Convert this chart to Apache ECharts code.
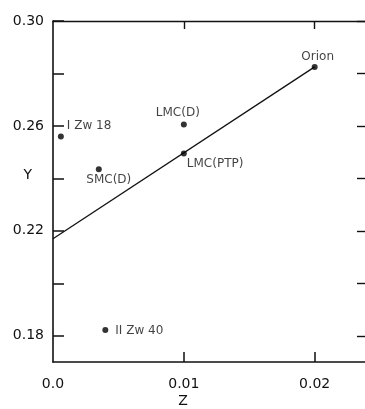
<!DOCTYPE html>
<html>
<head>
<meta charset="utf-8">
<script src="https://cdn.jsdelivr.net/npm/echarts@6/dist/echarts.min.js"></script>
<style>
  html, body { margin: 0; padding: 0; background: #fff; }
  #chart { width: 365px; height: 409px; }
</style>
</head>
<body>
<div id="chart"></div>
<script>
// Objects and their (Z, Y) values
const objectNames = ['I Zw 18', 'SMC(D)', 'LMC(D)', 'LMC(PTP)', 'Orion', 'II Zw 40'];
const zValues = [0.0006, 0.0035, 0.0100, 0.0100, 0.0200, 0.0040];
const yValues = [0.256, 0.2435, 0.2605, 0.2495, 0.2825, 0.1822];

// Fitted line end points
const fitLineZ = [0.0, 0.020];
const fitLineY = [0.217, 0.2825];

// Ticks and labels
const yTickValues = [0.18, 0.20, 0.22, 0.24, 0.26, 0.28, 0.30];
const yLabelValues = [0.18, 0.22, 0.26, 0.30];
const xTickValues = [0.01, 0.02];
const xLabelValues = [0.0, 0.01, 0.02];

// where each label sits relative to its dot
const labelPlacement = {
  'I Zw 18': { align: 'left', offset: [6, -11] },
  'SMC(D)': { align: 'center', offset: [10, 11] },
  'LMC(D)': { align: 'center', offset: [-6, -12] },
  'LMC(PTP)': { align: 'left', offset: [3, 10] },
  'Orion': { align: 'center', offset: [3, -10] },
  'II Zw 40': { align: 'left', offset: [10, 1] },
};

const font = 'DejaVu Sans';
const ink = '#111';

const chart = echarts.init(document.getElementById('chart'));

const points = objectNames.map((name, i) => ({
  name,
  value: [zValues[i], yValues[i]],
  label: {
    show: true,
    position: 'inside',
    formatter: name,
    align: labelPlacement[name].align,
    verticalAlign: 'middle',
    offset: labelPlacement[name].offset,
    color: ink,
    fontFamily: font,
    fontSize: 12,
  },
}));

const option = {
  animation: false,
  grid: { left: 53, right: -2, top: 21, bottom: 47, outerBoundsMode: 'none' },
  xAxis: [
    {
      type: 'value',
      min: 0,
      max: 0.024,
      position: 'bottom',
      name: 'Z',
      nameLocation: 'middle',
      nameGap: 32,
      nameMoveOverlap: false,
      nameTextStyle: { color: ink, fontFamily: font, fontSize: 14, padding: [0, 54, 0, 0] },
      axisLine: { show: true, onZero: false, lineStyle: { color: ink, width: 1.6 } },
      axisTick: { show: true, inside: true, length: 10, customValues: xTickValues, lineStyle: { color: ink, width: 1.5 } },
      axisLabel: {
        customValues: xLabelValues,
        margin: 15,
        color: ink,
        fontFamily: font,
        fontSize: 14,
        formatter: (v) => (v === 0 ? '0.0' : v.toFixed(2)),
      },
      splitLine: { show: false },
    },
    {
      type: 'value',
      min: 0,
      max: 0.024,
      position: 'top',
      axisLine: { show: true, onZero: false, lineStyle: { color: ink, width: 1.4 } },
      axisTick: { show: true, inside: true, length: 8, customValues: xTickValues, lineStyle: { color: ink, width: 1.4 } },
      axisLabel: { show: false },
      splitLine: { show: false },
    },
  ],
  yAxis: [
    {
      type: 'value',
      min: 0.17,
      max: 0.30,
      position: 'left',
      name: 'Y',
      nameLocation: 'middle',
      nameRotate: 0,
      nameGap: 21,
      nameMoveOverlap: false,
      nameTextStyle: { color: ink, fontFamily: font, fontSize: 14, verticalAlign: 'bottom', padding: [0, 0, 9, 0] },
      axisLine: { show: true, onZero: false, lineStyle: { color: ink, width: 1.6 } },
      axisTick: { show: true, inside: true, length: 11, customValues: yTickValues, lineStyle: { color: ink, width: 1.5 } },
      axisLabel: {
        customValues: yLabelValues,
        margin: 9,
        color: ink,
        fontFamily: font,
        fontSize: 14,
        formatter: (v) => v.toFixed(2),
      },
      splitLine: { show: false },
    },
    {
      type: 'value',
      min: 0.17,
      max: 0.30,
      position: 'right',
      axisLine: { show: true, onZero: false, lineStyle: { color: ink, width: 1.4 } },
      axisTick: { show: true, inside: true, length: 10, customValues: yTickValues, lineStyle: { color: ink, width: 1.4 } },
      axisLabel: { show: false },
      splitLine: { show: false },
    },
  ],
  series: [
    {
      type: 'line',
      data: fitLineZ.map((z, i) => [z, fitLineY[i]]),
      showSymbol: false,
      lineStyle: { color: ink, width: 1.3 },
      z: 1,
    },
    {
      type: 'scatter',
      data: points,
      symbolSize: 6,
      itemStyle: { color: '#000' },
      z: 3,
    },
  ],
};

chart.setOption(option);
</script>
</body>
</html>
